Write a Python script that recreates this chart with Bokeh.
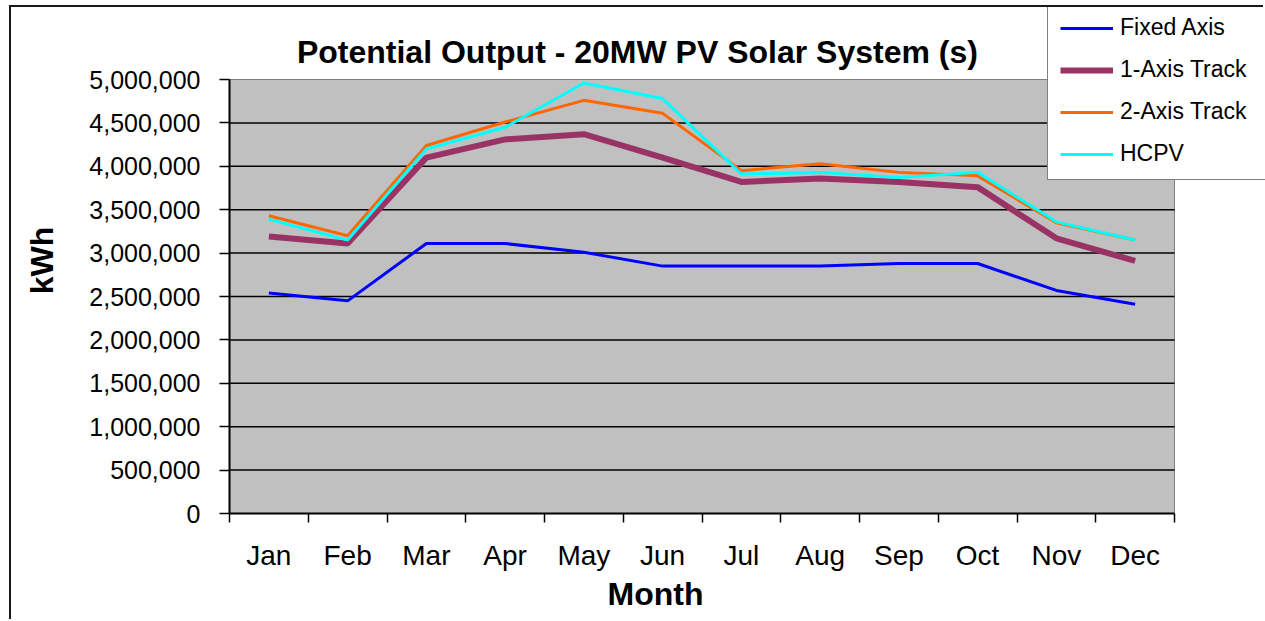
import numpy as np
from bokeh.plotting import figure
from bokeh.models import Range1d, FixedTicker, NumeralTickFormatter, Label, Title
from bokeh.embed import file_html
from bokeh.resources import INLINE

# ---- data ----
months = ["Jan", "Feb", "Mar", "Apr", "May", "Jun",
          "Jul", "Aug", "Sep", "Oct", "Nov", "Dec"]
fixed_axis = [2540000, 2450000, 3110000, 3110000, 3010000, 2850000,
              2850000, 2850000, 2880000, 2880000, 2570000, 2410000]
one_axis_track = [3190000, 3110000, 4100000, 4310000, 4370000, 4100000,
                  3820000, 3860000, 3820000, 3760000, 3170000, 2910000]
two_axis_track = [3430000, 3200000, 4240000, 4510000, 4760000, 4610000,
                  3950000, 4030000, 3930000, 3890000, 3350000, 3150000]
hcpv = [3390000, 3150000, 4200000, 4450000, 4960000, 4780000,
        3910000, 3930000, 3870000, 3930000, 3360000, 3150000]
y_ticks = [0, 500000, 1000000, 1500000, 2000000, 2500000,
           3000000, 3500000, 4000000, 4500000, 5000000]
title_text = "Potential Output - 20MW PV Solar System (s)"
x_title = "Month"
y_title = "kWh"

FONT = "Liberation Sans"
n = len(months)
x = np.arange(n) + 0.5
y_max = y_ticks[-1]

# canvas layout (px)
W, H = 1254, 614
LEFT, BOTTOM = 218, 108          # frame left / bottom margins
PX_X = 78.75                     # px per month
PX_Y = 86.8 / 1e6                # px per kWh
top_gap = 72                     # px between 5,000,000 line and canvas top
x_end = n + (W - LEFT - n * PX_X) / PX_X
y_end = y_max + top_gap / PX_Y

p = figure(width=W, height=H, output_backend="svg", toolbar_location=None,
           x_range=Range1d(0, x_end), y_range=Range1d(0, y_end),
           min_border_left=LEFT, min_border_right=0,
           min_border_top=0, min_border_bottom=BOTTOM)
p.title.visible = False
p.styles = {"margin-left": "9px", "margin-top": "5px",
            "border-left": "2px solid #1a1a1a", "border-top": "2px solid #1a1a1a"}

p.background_fill_color = "white"
p.border_fill_color = "white"
p.outline_line_color = None
p.xgrid.visible = False
p.ygrid.visible = False

# plot area (grey) and horizontal grid lines
p.quad(left=[0], right=[n], bottom=[0], top=[y_max],
       fill_color="#C0C0C0", line_color="#808080", line_width=1)
grid_y = y_ticks[1:-1]
p.segment(x0=[0] * len(grid_y), x1=[n] * len(grid_y), y0=grid_y, y1=grid_y,
          line_color="black", line_width=1.5)

# chart title
p.add_layout(Label(x=5.18, y=y_max + 28 / PX_Y, text=title_text,
                   text_font=FONT, text_font_size="32px", text_font_style="bold",
                   text_color="black", text_align="center", text_baseline="alphabetic"))

# y axis
ya = p.yaxis[0]
ya.bounds = (0, y_max)
ya.ticker = FixedTicker(ticks=y_ticks, minor_ticks=[])
ya.formatter = NumeralTickFormatter(format="0,0")
ya.major_tick_out = 10
ya.major_tick_in = 0
ya.major_tick_line_width = 1.5
ya.axis_line_width = 2
ya.major_label_text_font = FONT
ya.major_label_text_font_size = "25px"
ya.major_label_text_color = "black"
ya.major_label_standoff = 19
ya.axis_label = y_title
ya.axis_label_text_font = FONT
ya.axis_label_text_font_size = "32px"
ya.axis_label_text_font_style = "bold"
ya.axis_label_text_color = "black"
ya.axis_label_standoff = 26

# x axis: labels at month centres, ticks at boundaries
xa = p.xaxis[0]
xa.bounds = (0, n)
xa.ticker = FixedTicker(ticks=list(x), minor_ticks=list(range(n + 1)))
xa.major_label_overrides = {float(v): m for v, m in zip(x, months)}
xa.major_tick_out = 0
xa.major_tick_in = 0
xa.minor_tick_out = 9
xa.minor_tick_in = 0
xa.minor_tick_line_color = "black"
xa.minor_tick_line_width = 1.5
xa.axis_line_width = 2
xa.major_label_text_font = FONT
xa.major_label_text_font_size = "28px"
xa.major_label_text_color = "black"
xa.major_label_standoff = 17

# x axis title (positioned as in the reference, left of the frame centre)
p.add_layout(Title(text=x_title, align="left", offset=378, standoff=0,
                   text_font=FONT, text_font_size="32px", text_font_style="bold",
                   text_color="black"), "below")

# lines
p.line(x, fixed_axis, line_color="#0000FF", line_width=3, legend_label="Fixed Axis")
p.line(x, one_axis_track, line_color="#993366", line_width=6, legend_label="1-Axis Track")
p.line(x, two_axis_track, line_color="#FF6600", line_width=3, legend_label="2-Axis Track")
p.line(x, hcpv, line_color="#00FFFF", line_width=3, legend_label="HCPV")

lg = p.legend[0]
lg.location = (818, 333)
lg.background_fill_color = "white"
lg.background_fill_alpha = 1
lg.border_line_color = "black"
lg.border_line_width = 1.5
lg.label_text_font = FONT
lg.label_text_font_size = "23px"
lg.label_text_color = "black"
lg.glyph_width = 53
lg.glyph_height = 22
lg.label_height = 22
lg.label_width = 145
lg.label_standoff = 7
lg.spacing = 15
lg.padding = 12
lg.margin = 0

open("out.html", "w").write(file_html(p, INLINE))
